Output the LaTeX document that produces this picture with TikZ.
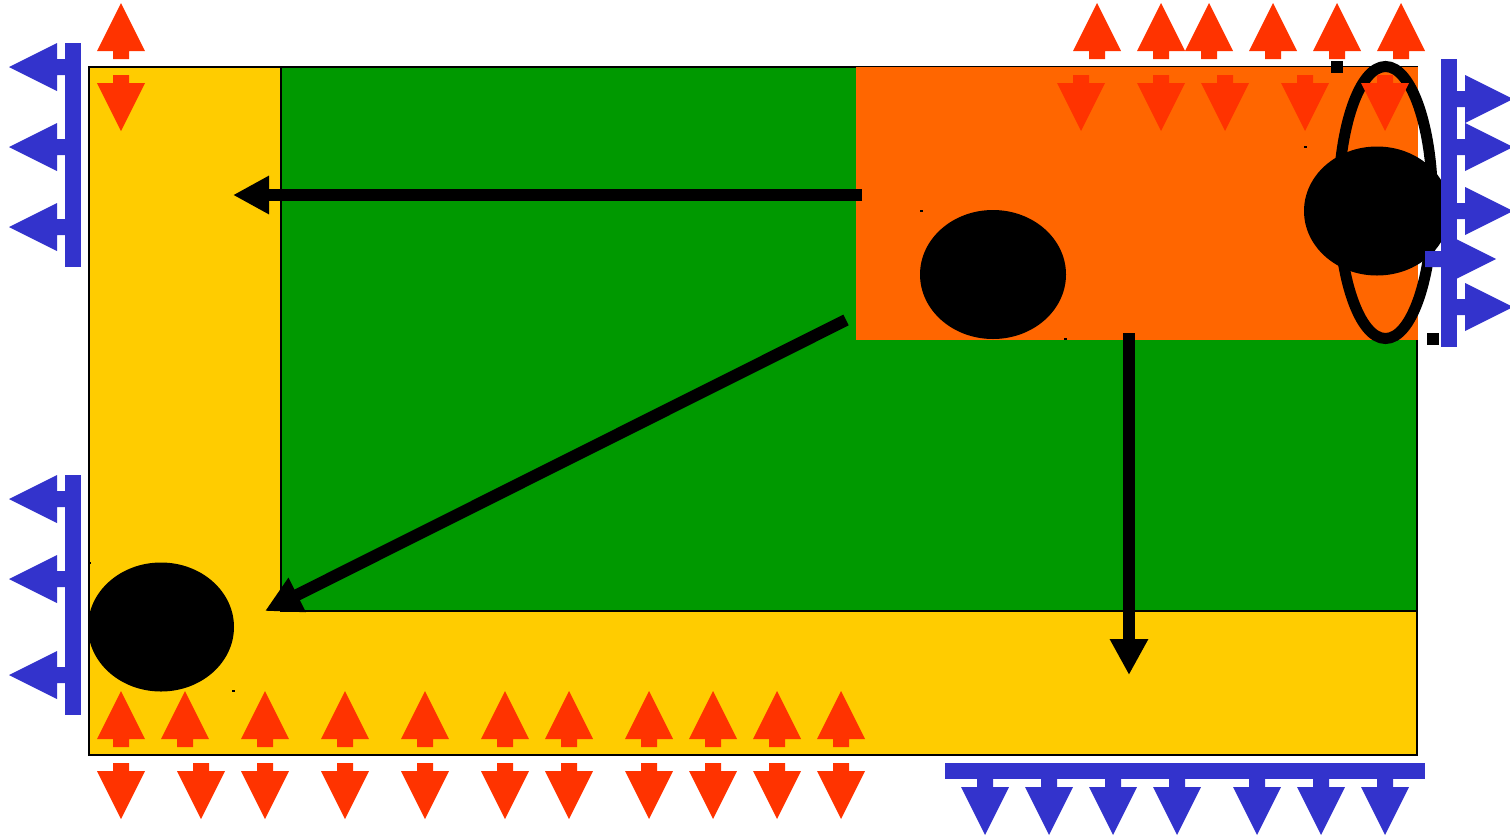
\documentclass[tikz,border=0pt]{standalone}
\usepackage{xcolor}
\usetikzlibrary{shapes.geometric, arrows.meta, positioning}
\definecolor{slabyellow}{HTML}{FFCC00}
\definecolor{slabgreen}{HTML}{009900}
\definecolor{slaborange}{HTML}{FF6600}
\definecolor{loadred}{HTML}{FF3300}
\definecolor{supportblue}{HTML}{3333CC}

\begin{document}
\begin{tikzpicture}[
    x=0.5pt, y=-0.5pt,
    region/.style={draw=black, line width=1pt},
    blob/.style={ellipse, fill=black, inner sep=0pt, minimum width=73pt, minimum height=64.5pt},
    ring/.style={ellipse, draw=black, line width=5.5pt, inner sep=0pt, minimum width=47pt, minimum height=136pt},
    arrow/.style={line width=6pt, -{Triangle[length=18pt, width=18pt]}},
    load/.style={color=loadred},
    support/.style={color=supportblue},
    marker/.style={fill=black},
    pics/blockarrow/.style={code={
        \fill (0,-8) -- (8,-8) -- (8,-24) -- (56,0) -- (8,24) -- (8,8) -- (0,8) -- cycle;
    }}
]
    \useasboundingbox (0,0) rectangle (1510,836);

    % regions
    \path [region, fill=slabyellow] (89,67) rectangle (1417,755);
    \path [region, fill=slabgreen] (281,67) rectangle (1417,611);
    \fill [slaborange] (856,67) rectangle (1418,340);

    \node (hole) [ring] at (1385.5,202.5) {};

    \node (blobA) [blob] at (993,274.5) {};
    \node (blobB) [blob] at (1377,211) {};
    \node (blobC) [blob] at (161,627) {};

    % flow arrows
    \coordinate (topStart) at (862,195);
    \coordinate (topEnd) at (233,195);
    \coordinate (diagStart) at (846,320);
    \coordinate (diagEnd) at (265,611);
    \coordinate (downStart) at (1129,333);
    \coordinate (downEnd) at (1129,675);

    \draw [arrow] (topStart) -- (topEnd);
    \draw [arrow] (diagStart) -- (diagEnd);
    \draw [arrow] (downStart) -- (downEnd);

    % loads on the top edge
    \pic [load, rotate=90] at (121,59) {blockarrow};
    \pic [load, rotate=-90] at (121,75) {blockarrow};
    \foreach \x in {1097,1161,1209,1273,1337,1401}
        \pic [load, rotate=90] at (\x,59) {blockarrow};
    \foreach \x in {1081,1161,1225,1305,1385}
        \pic [load, rotate=-90] at (\x,75) {blockarrow};

    % loads on the bottom edge
    \foreach \x in {121,185,265,345,425,505,569,649,713,777,841}
        \pic [load, rotate=90] at (\x,747) {blockarrow};
    \foreach \x in {121,201,265,345,425,505,569,649,713,777,841}
        \pic [load, rotate=-90] at (\x,763) {blockarrow};

    % supports
    \fill [support] (1425,251) -- (1448,251) -- (1448,235) -- (1496,259)
        -- (1448,283) -- (1448,267) -- (1425,267) -- cycle;

    \fill [support] (65,43) rectangle (81,267);
    \foreach \y in {67,147,227}
        \pic [support, rotate=180] at (65,\y) {blockarrow};

    \fill [support] (65,475) rectangle (81,715);
    \foreach \y in {499,579,675}
        \pic [support, rotate=180] at (65,\y) {blockarrow};

    \fill [support] (1441,59) rectangle (1457,347);
    \foreach \y in {99,147,211,307}
        \pic [support] at (1457,\y) {blockarrow};

    \fill [support] (945,763) rectangle (1425,779);
    \foreach \x in {985,1049,1113,1177,1257,1321,1385}
        \pic [support, rotate=-90] at (\x,779) {blockarrow};

    % markers
    \fill [marker] (1331,61) rectangle (1343,73);
    \fill [marker] (1427,333) rectangle (1439,345);
    \fill [marker] (920,210) rectangle (923,212);
    \fill [marker] (1304,146) rectangle (1307,148);
    \fill [marker] (1064,338) rectangle (1067,340);
    \fill [marker] (232,690) rectangle (235,692);
    \fill [marker] (88,562) rectangle (91,564);
\end{tikzpicture}
\end{document}
